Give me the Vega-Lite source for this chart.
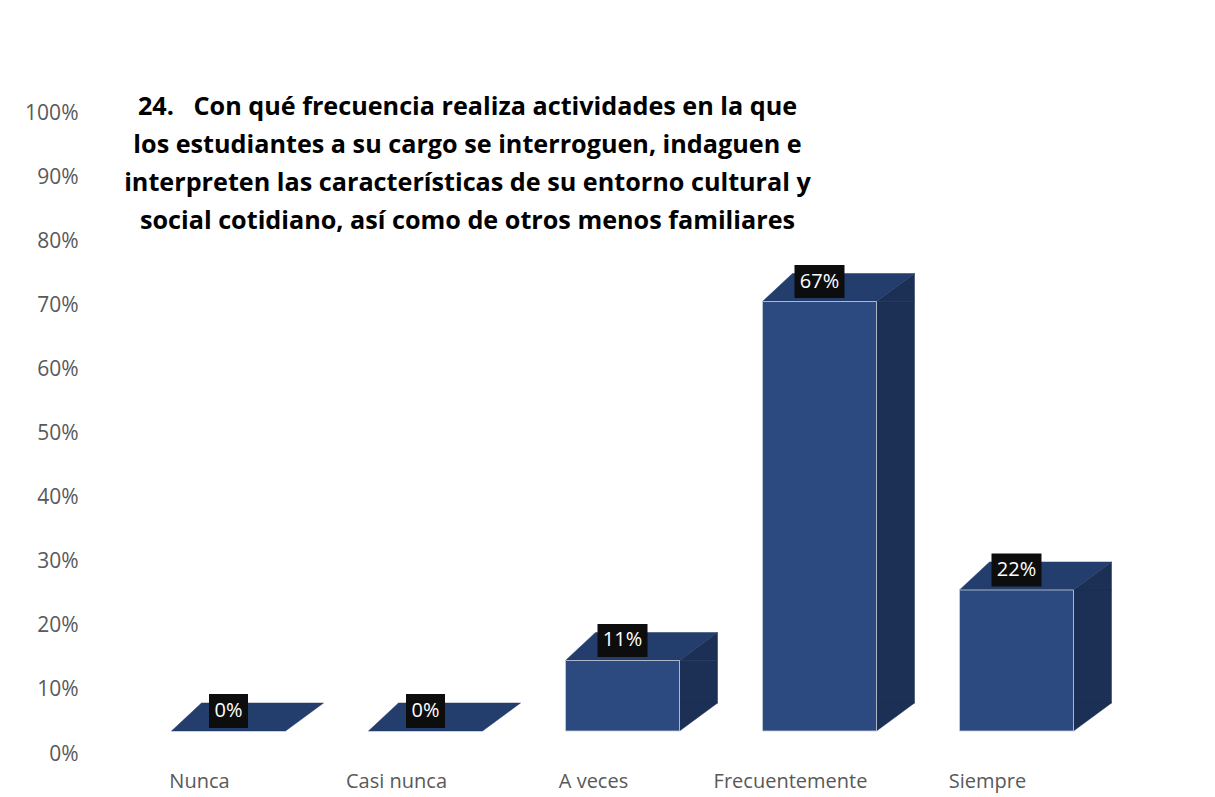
{
  "$schema": "https://vega.github.io/schema/vega-lite/v6.json",
  "autosize": "none",
  "padding": {"left": 130, "top": 113, "right": 100, "bottom": 43},
  "width": 985,
  "height": 641,
  "background": "white",
  "config": {"view": {"stroke": null}, "font": "Open Sans"},
  "title": {
    "text": ["24.\u00a0\u00a0\u00a0Con qué frecuencia realiza actividades en la que", "los estudiantes a su cargo se interroguen, indaguen e", "interpreten las características de su entorno cultural y", "social cotidiano, así como de otros menos familiares"],
    "anchor": "middle",
    "frame": "group",
    "orient": "top",
    "baseline": "top",
    "offset": 0,
    "dx": -155,
    "dy": 132,
    "font": "Open Sans",
    "fontSize": 25.2,
    "fontWeight": "bold",
    "color": "#000000",
    "lineHeight": 38
  },
  "data": {"values": [
    {"cat": "Nunca", "v": 0},
    {"cat": "Casi nunca", "v": 0},
    {"cat": "A veces", "v": 0.11},
    {"cat": "Frecuentemente", "v": 0.67},
    {"cat": "Siempre", "v": 0.22}
  ]},
  "encoding": {
    "x": {"field": "cat", "type": "nominal", "sort": ["Nunca", "Casi nunca", "A veces", "Frecuentemente", "Siempre"],
      "scale": {"domain": ["Nunca", "Casi nunca", "A veces", "Frecuentemente", "Siempre"], "paddingInner": 0.4213, "paddingOuter": 0.2107},
      "axis": {"title": null, "labelAngle": 0, "domain": false, "ticks": false, "tickSize": 0, "labelPadding": 17, "labelOffset": -29, "labelFontSize": 20, "labelColor": "#595959", "labelFont": "Open Sans"}},
    "y": {"field": "v", "type": "quantitative",
      "scale": {"domain": [0, 1], "nice": false},
      "axis": {"title": null, "format": ".0%", "values": [0, 0.1, 0.2, 0.3, 0.4, 0.5, 0.6, 0.7, 0.8, 0.9, 1], "domain": false, "ticks": false, "tickSize": 0, "grid": false, "labelPadding": 52, "labelFontSize": 21, "labelColor": "#595959", "labelFont": "Open Sans"}}
  },
  "layer": [
    {
      "transform": [{"filter": "datum.v > 0"}],
      "mark": {"type": "bar", "width": 38, "xOffset": 76, "yOffset": -23, "y2Offset": -51, "color": "#1C2F54", "stroke": "#1C2F54", "strokeWidth": 0.5},
      "encoding": {"y2": {"datum": 0}}
    },
    {
      "transform": [{"filter": "datum.v > 0"}],
      "mark": {"type": "point", "filled": true, "opacity": 1, "size": 4, "shape": "M57,0 L95,-28 L95,0 Z", "yOffset": -23, "color": "#1C2F54", "stroke": "#1C2F54", "strokeWidth": 0.5}
    },
    {
      "transform": [{"filter": "datum.v > 0"}],
      "mark": {"type": "point", "filled": true, "opacity": 1, "size": 4, "shape": "M57,-28 L95,-28 L57,0 Z", "yOffset": -23, "color": "#1C2F54", "stroke": "#1C2F54", "strokeWidth": 0.5},
      "encoding": {"y": {"datum": 0}}
    },
    {
      "mark": {"type": "point", "filled": true, "opacity": 1, "size": 4, "shape": "M-57,0 L57,0 L95,-28 L-27,-28 Z", "yOffset": -23, "color": "#233D6C", "stroke": "#233D6C", "strokeWidth": 0.5}
    },
    {
      "transform": [{"filter": "datum.v > 0"}],
      "mark": {"type": "bar", "yOffset": -23, "y2Offset": -23, "color": "#2C4A80", "stroke": "#C9D0DC", "strokeWidth": 0.8},
      "encoding": {"y2": {"datum": 0}}
    },
    {
      "transform": [{"filter": "datum.v >= 0.1"}],
      "mark": {"type": "point", "filled": true, "opacity": 1, "size": 4, "shape": "M-25,-16.5 L25,-16.5 L25,16.5 L-25,16.5 Z", "yOffset": -43, "color": "#0D0D0D"}
    },
    {
      "transform": [{"filter": "datum.v < 0.1"}],
      "mark": {"type": "point", "filled": true, "opacity": 1, "size": 4, "shape": "M-19.5,-17 L19.5,-17 L19.5,17 L-19.5,17 Z", "yOffset": -43, "color": "#0D0D0D"}
    },
    {
      "mark": {"type": "text", "yOffset": -43, "color": "#FFFFFF", "fontSize": 20, "font": "Open Sans", "baseline": "middle", "align": "center"},
      "encoding": {"text": {"field": "v", "type": "quantitative", "format": ".0%"}}
    }
  ]
}
